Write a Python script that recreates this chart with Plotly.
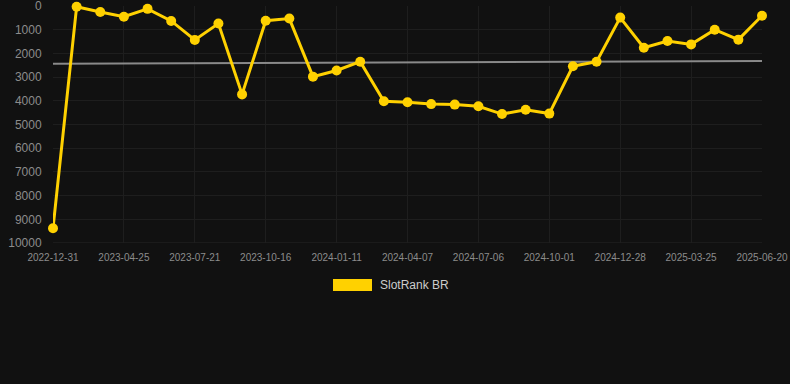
import plotly.graph_objects as go

dates = ["2022-12-31", "2023-02-07", "2023-03-17", "2023-04-25", "2023-05-24", "2023-06-22",
         "2023-07-21", "2023-08-22", "2023-09-23", "2023-10-16", "2023-11-13", "2023-12-13",
         "2024-01-11", "2024-02-06", "2024-03-08", "2024-04-07", "2024-05-07", "2024-06-06",
         "2024-07-06", "2024-08-03", "2024-09-02", "2024-10-01", "2024-10-30", "2024-11-29",
         "2024-12-28", "2025-01-26", "2025-02-24", "2025-03-25", "2025-04-22", "2025-05-21",
         "2025-06-20"]
ranks = [9380, 30, 250, 450, 120, 630, 1430, 740, 3730, 620, 530, 2980,
         2720, 2350, 4020, 4060, 4140, 4160, 4230, 4560, 4380, 4540, 2540, 2350,
         490, 1760, 1480, 1620, 1000, 1420, 410]
trend = [2440, 2320]
tick_labels = ["2022-12-31", "2023-04-25", "2023-07-21", "2023-10-16", "2024-01-11",
               "2024-04-07", "2024-07-06", "2024-10-01", "2024-12-28", "2025-03-25",
               "2025-06-20"]
y_ticks = list(range(0, 10001, 1000))
y_tick_text = [str(v) for v in y_ticks]
series_name = "SlotRank BR"

gold = "#FFD100"
grid = "#1e1e1e"
fig = go.Figure()
fig.add_trace(go.Scatter(
    x=[dates[0], dates[-1]], y=trend, mode="lines",
    line=dict(color="#8a8a8a", width=2), showlegend=False, hoverinfo="skip"))
fig.add_trace(go.Scatter(
    x=dates, y=ranks, mode="lines+markers", name=series_name,
    line=dict(color=gold, width=3), marker=dict(color=gold, size=10),
    cliponaxis=False, showlegend=False))

fig.add_shape(type="rect", xref="paper", yref="paper",
              x0=(333 - 53) / 709, x1=(372 - 53) / 709,
              y0=(243 - 279) / 237, y1=(243 - 291) / 237,
              fillcolor=gold, line=dict(width=0))
fig.add_annotation(text=series_name, xref="paper", yref="paper",
                   x=(378 - 53) / 709, y=(243 - 285) / 237,
                   xanchor="left", yanchor="middle", showarrow=False,
                   font=dict(size=12, color="#cccccc"))

fig.update_layout(
    width=790, height=384,
    margin=dict(l=53, r=28, t=6, b=141, autoexpand=False),
    paper_bgcolor="#111111", plot_bgcolor="#111111",
    font=dict(family="Arial, Liberation Sans, sans-serif", color="#8c8c8c"),
    showlegend=False,
    xaxis=dict(type="category", categoryorder="array", categoryarray=dates,
               range=[0, len(dates) - 1], automargin=False, ticklabeloverflow="allow",
               tickmode="array", tickvals=tick_labels, ticktext=tick_labels,
               showgrid=True, gridcolor=grid, gridwidth=1,
               zeroline=False, showline=False, tickfont=dict(size=10, color="#8c8c8c"),
               ticks="outside", ticklen=5, tickcolor="#111111"),
    yaxis=dict(range=[10000, 0], automargin=False, ticklabeloverflow="allow",
               tickmode="array", tickvals=y_ticks, ticktext=y_tick_text,
               showgrid=True, gridcolor=grid, gridwidth=1,
               zeroline=False, showline=False, tickfont=dict(size=12, color="#8c8c8c"),
               ticks="outside", ticklen=8, tickcolor="#111111"),
)
fig.add_shape(type="line", xref="paper", yref="y", x0=0, x1=1, y0=10000, y1=10000,
              line=dict(color="#262626", width=1), layer="below")

fig.write_html("out.html", config={"displayModeBar": False},
               post_script="document.body.style.margin='0';document.body.style.background='#111111';")
